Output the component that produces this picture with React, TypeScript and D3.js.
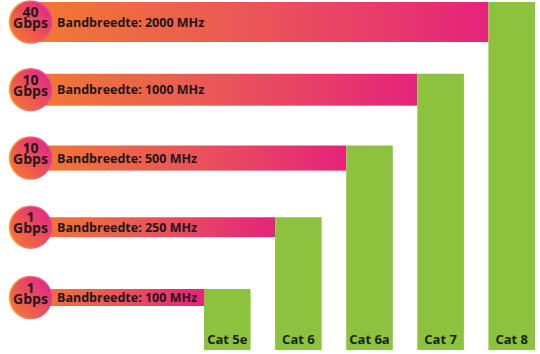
import React from "react";
import * as d3 from "d3";

const categories = ["Cat 5e", "Cat 6", "Cat 6a", "Cat 7", "Cat 8"];
const bandwidthMHz = [100, 250, 500, 1000, 2000];
const speedValues = ["1", "1", "10", "10", "40"];
const speedUnit = "Gbps";

const W = 540;
const H = 354;

export default function App() {
  const idx = categories.map((_, i) => i);

  // columns along x
  const x = d3.scaleBand<string>().domain(categories).range([204, 535]).paddingInner(0.345);
  // top edge of each row (largest category on top)
  const rowTop = d3.scalePoint<number>().domain(idx).range([289, 2]);
  // bar thickness grows with the category rank
  const thick = d3.scalePow().exponent(1.5).domain([0, 4]).range([17, 40]);
  const baseY = 350;
  const circleX = 30.5;
  const r = 21;

  return (
    <svg
      width={W}
      height={H}
      style={{ position: "absolute", left: 0, top: 0, background: "#fff" }}
      fontFamily="'Open Sans', sans-serif"
    >
      <defs>
        <linearGradient id="barGrad" x1="0" y1="0" x2="1" y2="0">
          <stop offset="0" stopColor="#f07a32" />
          <stop offset="0.5" stopColor="#ea5558" />
          <stop offset="1" stopColor="#e5237b" />
        </linearGradient>
        <linearGradient id="circGrad" x1="0.1" y1="0.9" x2="0.9" y2="0.1">
          <stop offset="0" stopColor="#f37535" />
          <stop offset="0.5" stopColor="#ec5055" />
          <stop offset="1" stopColor="#e2278a" />
        </linearGradient>
        <linearGradient id="rimGrad" x1="0" y1="0.5" x2="1" y2="0.5">
          <stop offset="0" stopColor="#f8a63a" />
          <stop offset="1" stopColor="#e53b9c" />
        </linearGradient>
      </defs>
      {idx.map((i) => {
        const cat = categories[i];
        const top = rowTop(i)!;
        const t = thick(i);
        const x0 = x(cat)!;
        const cy = top + t / 2;
        return (
          <g key={cat}>
            <rect x={circleX} y={top} width={x0 - circleX} height={t} fill="url(#barGrad)" />
            <rect x={x0} y={top} width={x.bandwidth()} height={baseY - top} fill="#8dc23f" />
            <text
              x={x0 + x.bandwidth() / 2}
              y={344}
              textAnchor="middle"
              fontSize={13}
              fontWeight={700}
              fill="#1e1e1e"
            >
              {cat}
            </text>
            <text x={57} y={cy} dominantBaseline="central" fontSize={12.5} fontWeight={700} fill="#1e161c">
              {`Bandbreedte: ${bandwidthMHz[i]} MHz`}
            </text>
            <circle cx={circleX} cy={cy} r={r} fill="url(#circGrad)" stroke="url(#rimGrad)" strokeWidth={1.5} />
            <text textAnchor="middle" fontSize={14} fontWeight={700} fill="#24161f">
              <tspan x={circleX} y={cy - 5}>{speedValues[i]}</tspan>
              <tspan x={circleX} y={cy + 6}>{speedUnit}</tspan>
            </text>
          </g>
        );
      })}
    </svg>
  );
}
